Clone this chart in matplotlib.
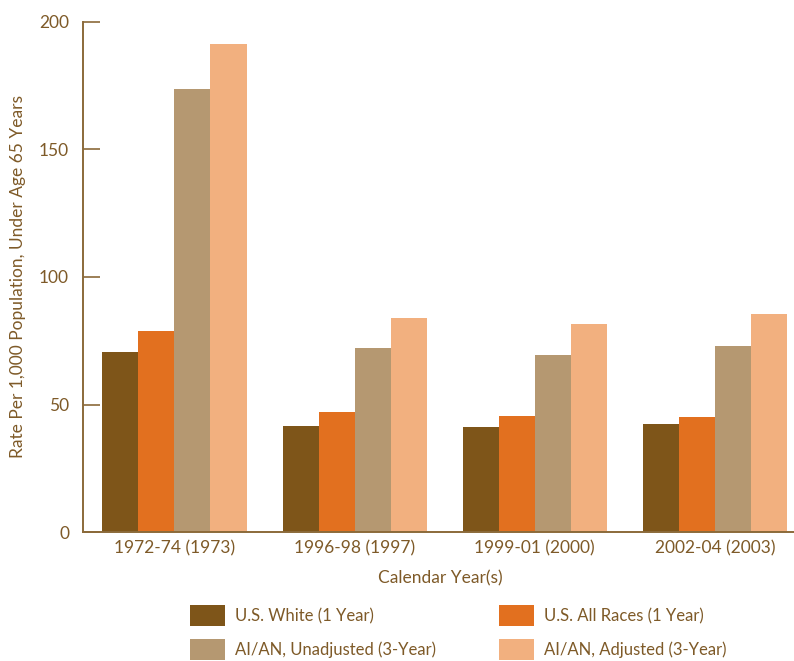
import matplotlib.pyplot as plt
import numpy as np

plt.rcParams['font.family'] = ['Lato', 'DejaVu Sans']

categories = ['1972-74 (1973)', '1996-98 (1997)', '1999-01 (2000)', '2002-04 (2003)']
us_white = [70.6, 41.6, 41.2, 42.4]
us_all = [78.8, 47.1, 45.5, 45.1]
aian_unadj = [173.7, 72.2, 69.4, 72.9]
aian_adj = [191.4, 83.9, 81.6, 85.5]
series_names = ['U.S. White (1 Year)', 'U.S. All Races (1 Year)',
                'AI/AN, Unadjusted (3-Year)', 'AI/AN, Adjusted (3-Year)']
colors = ['#7E5519', '#E2701F', '#B59871', '#F2B07F']
txt = '#7E5A28'
axc = '#8B6A3A'

fig = plt.figure(figsize=(7.94, 6.61), dpi=100)
ax = fig.add_axes([0.1045, 0.195, 0.8955, 0.772])

x = np.arange(len(categories))
w = 0.2
bars = []
for i, vals in enumerate([us_white, us_all, aian_unadj, aian_adj]):
    b = ax.bar(x + (i - 1.5) * w, vals, w, color=colors[i], label=series_names[i])
    bars.append(b)

ax.set_xlim(-0.508, 3.44)
ax.set_ylim(0, 200)
ax.set_yticks([0, 50, 100, 150, 200])
ax.set_xticks(x)
ax.set_xticklabels(categories)
ax.tick_params(axis='y', direction='in', length=12, width=1.2, color=axc,
               labelcolor=txt, labelsize=12.5, pad=10)
ax.tick_params(axis='x', length=0, labelcolor=txt, labelsize=12.5, pad=6)
for s in ['top', 'right']:
    ax.spines[s].set_visible(False)
for s in ['left', 'bottom']:
    ax.spines[s].set_color(axc)
    ax.spines[s].set_linewidth(1.4)

ax.set_ylabel('Rate Per 1,000 Population, Under Age 65 Years', color=txt, fontsize=12.5, labelpad=9)
fig.text(0.554, 0.125, 'Calendar Year(s)', color=txt, fontsize=12.5, ha='center', va='center')

handles = [bars[0], bars[2], bars[1], bars[3]]
labels = [series_names[0], series_names[2], series_names[1], series_names[3]]
leg = fig.legend(handles, labels, ncol=2, loc='upper left', bbox_to_anchor=(0.239, 0.085),
                 frameon=False, fontsize=12, handlelength=2.1, handleheight=1.6,
                 handletextpad=0.6, columnspacing=3.8, labelspacing=0.75, borderaxespad=0,
                 borderpad=0)
for t in leg.get_texts():
    t.set_color(txt)

fig.savefig('out.png', dpi=100)
